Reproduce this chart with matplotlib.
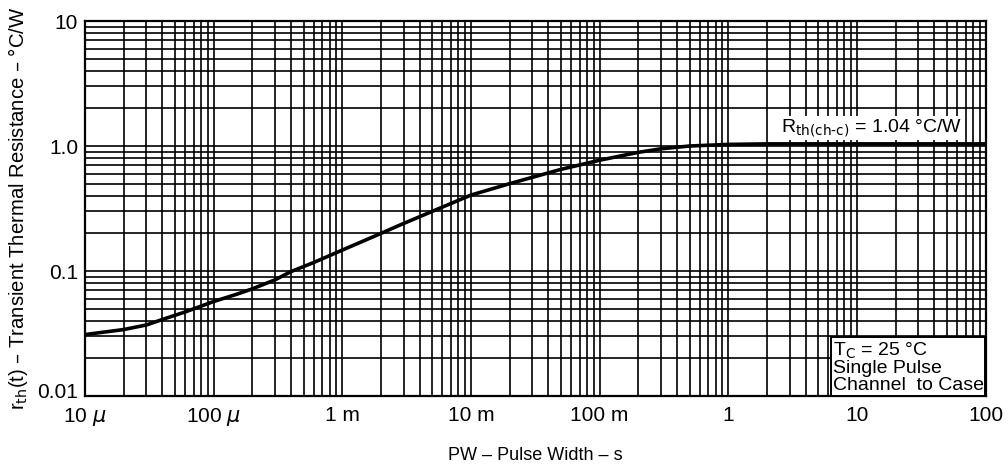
import numpy as np
import matplotlib
matplotlib.use('Agg')
import matplotlib.pyplot as plt
import matplotlib.transforms as mtransforms
from matplotlib.ticker import LogLocator, NullFormatter

plt.rcParams['font.family'] = ['Liberation Sans', 'DejaVu Sans']

# values
pulse_width = [10e-6, 20e-6, 30e-6, 43e-6, 60e-6, 100e-6, 150e-6, 200e-6, 300e-6,
               400e-6, 600e-6, 1e-3, 2e-3, 2.8e-3, 5e-3, 10e-3, 20e-3, 50e-3,
               100e-3, 200e-3, 300e-3, 500e-3, 1.0, 2.0, 3.0, 10.0, 100.0]
rth = [0.031, 0.034, 0.037, 0.042, 0.047, 0.057, 0.065, 0.072, 0.085,
       0.099, 0.117, 0.147, 0.20, 0.233, 0.30, 0.405, 0.50, 0.65,
       0.77, 0.89, 0.95, 1.0, 1.03, 1.04, 1.04, 1.04, 1.04]

xticks = [1e-5, 1e-4, 1e-3, 1e-2, 1e-1, 1, 10, 100]
xticklabels = ['10 $\\mu$', '100 $\\mu$', '1 m', '10 m', '100 m', '1', '10', '100']
yticks = [0.01, 0.1, 1, 10]
yticklabels = ['0.01', '0.1', '1.0', '10']

fig = plt.figure(figsize=(10.08, 4.65), dpi=100)
ax = fig.add_axes([0.0843, 0.1484, 0.8935, 0.8064])

ax.plot(pulse_width, rth, color='black', lw=2.6, zorder=3, solid_capstyle='butt')

ax.set_xscale('log')
ax.set_yscale('log')
ax.set_xlim(1e-5, 100)
ax.set_ylim(0.01, 10)

ax.xaxis.set_minor_locator(LogLocator(base=10, subs=np.arange(2, 10), numticks=20))
ax.yaxis.set_minor_locator(LogLocator(base=10, subs=np.arange(2, 10), numticks=20))
ax.xaxis.set_minor_formatter(NullFormatter())
ax.yaxis.set_minor_formatter(NullFormatter())
ax.set_xticks(xticks)
ax.set_xticklabels(xticklabels)
ax.set_yticks(yticks)
ax.set_yticklabels(yticklabels)
ax.tick_params(which='both', length=0, labelsize=15)
ax.tick_params(axis='x', pad=7)
ax.tick_params(axis='y', pad=5)

# lift the 0.01 label a little so it clears the 10 µ label
lbl = ax.get_yticklabels()[0]
lbl.set_transform(lbl.get_transform() + mtransforms.ScaledTranslation(0, 4 / 72, fig.dpi_scale_trans))

ax.grid(True, which='both', color='black', lw=1.2)
for s in ax.spines.values():
    s.set_linewidth(1.6)

ax.set_xlabel('PW – Pulse Width – s', fontsize=13, labelpad=14)
ax.set_ylabel('r$_{\\mathrm{th}}$(t) – Transient Thermal Resistance – °C/W', fontsize=14.6, labelpad=5)

ax.text(0.773, 0.686, 'R$_{\\mathrm{th(ch\\text{-}c)}}$ = 1.04 °C/W', transform=ax.transAxes,
        fontsize=14, ha='left', va='bottom', zorder=4,
        bbox=dict(facecolor='white', edgecolor='none', pad=1))

ax.text(0.83, 0.006, 'T$_\\mathrm{C}$ = 25 °C\nSingle Pulse\nChannel  to Case', transform=ax.transAxes,
        fontsize=14, ha='left', va='bottom', linespacing=0.95, zorder=4,
        bbox=dict(facecolor='white', edgecolor='black', lw=1.4, boxstyle='square,pad=0.1'))

fig.savefig('out.png', dpi=100)
